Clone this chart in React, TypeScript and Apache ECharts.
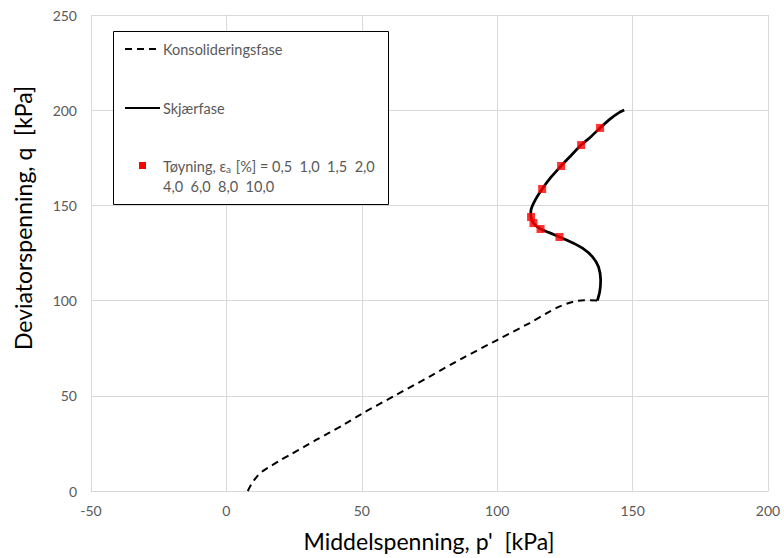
import React, { useEffect, useRef } from "react";
import * as echarts from "echarts";

// Consolidation phase (dashed)
const consP = [7.9, 9.0, 10.3, 11.9, 14.0, 16.6, 19.6, 23.9, 28.8, 33.1, 38.0, 43.5, 50.3, 62.6, 74.9, 87.1, 100, 111.8, 118.5, 122.9, 127.8, 132, 137];
const consQ = [0, 3.0, 5.8, 8.6, 11.0, 13.2, 15.9, 19.3, 23.3, 26.8, 30.6, 35.0, 40.8, 50.4, 60.0, 69.7, 79.3, 88.1, 93.5, 96.8, 99.3, 100.2, 100];

// Shear phase (solid)
const shearP = [137, 137.9, 138.2, 137.4, 135.2, 131.5, 127.8, 123, 119.2, 116, 113.4, 112.5, 112.4, 113.7, 116.6, 119.8, 123.6, 127.2, 131, 134.6, 138, 142, 145, 146.9];
const shearQ = [100, 105, 110.8, 117.8, 123, 127.5, 130.4, 133.4, 135.7, 137.6, 140.7, 143.9, 146.7, 151.9, 158.6, 164.7, 170.7, 176.1, 181.7, 186.1, 190.7, 195.7, 198.7, 200.1];

// Strain markers (0.5, 1.0, 1.5, 2.0, 4.0, 6.0, 8.0, 10.0 %)
const strainLabels = ["0,5", "1,0", "1,5", "2,0", "4,0", "6,0", "8,0", "10,0"];
const markP = [123, 116, 113.4, 112.5, 116.6, 123.6, 131, 138];
const markQ = [133.4, 137.6, 140.7, 143.9, 158.6, 170.7, 181.7, 190.7];

const xTicks = { min: -50, max: 200, interval: 50 };
const yTicks = { min: 0, max: 250, interval: 50 };

const FONT = "Lato, 'Noto Sans', sans-serif";

export default function App() {
  const ref = useRef<HTMLDivElement>(null);
  useEffect(() => {
    document.body.style.margin = "0";
    if (!ref.current) return;
    const chart = echarts.init(ref.current, undefined, { renderer: "svg" });
    const gridColor = "#d9d9d9";
    const labelColor = "#595959";
    const legendText = {
      verticalAlign: "middle",
      fontSize: 14.5,
      fontFamily: FONT,
      fill: labelColor,
    };
    chart.setOption({
      animation: false,
      backgroundColor: "#ffffff",
      textStyle: { fontFamily: FONT },
      grid: { left: 91, right: 16, top: 15, bottom: 67, containLabel: false },
      xAxis: {
        type: "value",
        min: xTicks.min,
        max: xTicks.max,
        interval: xTicks.interval,
        axisLine: { show: true, onZero: false, lineStyle: { color: gridColor } },
        axisTick: { show: false },
        splitLine: { show: true, lineStyle: { color: gridColor, width: 1 } },
        axisLabel: { color: labelColor, fontSize: 14, margin: 12, fontFamily: FONT },
      },
      yAxis: {
        type: "value",
        min: yTicks.min,
        max: yTicks.max,
        interval: yTicks.interval,
        axisLine: { show: true, lineStyle: { color: gridColor } },
        axisTick: { show: false },
        splitLine: { show: true, lineStyle: { color: gridColor, width: 1 } },
        axisLabel: { color: labelColor, fontSize: 14, margin: 14, fontFamily: FONT },
      },
      series: [
        {
          name: "Konsolideringsfase",
          type: "line",
          data: consP.map((p, i) => [p, consQ[i]]),
          showSymbol: false,
          smooth: 0.3,
          lineStyle: { color: "#000", width: 2, type: [7, 5] },
        },
        {
          name: "Skjærfase",
          type: "line",
          data: shearP.map((p, i) => [p, shearQ[i]]),
          showSymbol: false,
          smooth: 0.3,
          lineStyle: { color: "#000", width: 2.75 },
        },
        {
          name: "Tøyning",
          type: "scatter",
          data: markP.map((p, i) => ({ value: [p, markQ[i]], name: strainLabels[i] })),
          symbol: "rect",
          symbolSize: 8,
          itemStyle: { color: "#ff0000" },
          z: 5,
        },
      ],
      graphic: [
        {
          type: "text",
          x: 429,
          y: 541,
          style: {
            text: "Middelspenning, p'  [kPa]",
            align: "center",
            verticalAlign: "middle",
            fontSize: 23,
            fontFamily: FONT,
            fill: "#000",
          },
        },
        {
          type: "text",
          x: 23,
          y: 218,
          rotation: Math.PI / 2,
          style: {
            text: "Deviatorspenning, q  [kPa]",
            align: "center",
            verticalAlign: "middle",
            fontSize: 23,
            fontFamily: FONT,
            fill: "#000",
          },
        },
        {
          type: "group",
          children: [
            {
              type: "rect",
              shape: { x: 113.5, y: 31.5, width: 275, height: 173 },
              style: { fill: "#fff", stroke: "#000", lineWidth: 1 },
              z: 10,
            },
            {
              type: "line",
              shape: { x1: 125, y1: 49, x2: 160, y2: 49 },
              style: { stroke: "#000", lineWidth: 2, lineDash: [7, 5] },
              z: 11,
            },
            {
              type: "text",
              x: 163,
              y: 49,
              style: { ...legendText, text: "Konsolideringsfase" },
              z: 11,
            },
            {
              type: "line",
              shape: { x1: 125, y1: 108, x2: 160, y2: 108 },
              style: { stroke: "#000", lineWidth: 2 },
              z: 11,
            },
            {
              type: "text",
              x: 163,
              y: 108,
              style: { ...legendText, text: "Skjærfase" },
              z: 11,
            },
            {
              type: "rect",
              shape: { x: 139, y: 162, width: 7, height: 7 },
              style: { fill: "#ff0000" },
              z: 11,
            },
            {
              type: "text",
              x: 163,
              y: 166,
              style: {
                ...legendText,
                text: "Tøyning, ε{s|a} [%] = " + strainLabels.slice(0, 4).join("  "),
                rich: {
                  s: {
                    fontSize: 10,
                    fontFamily: FONT,
                    fill: labelColor,
                    verticalAlign: "bottom",
                    lineHeight: 14,
                    padding: [0, 1, 0, 0],
                  },
                },
              },
              z: 11,
            },
            {
              type: "text",
              x: 163,
              y: 186,
              style: { ...legendText, text: strainLabels.slice(4).join("  ") },
              z: 11,
            },
          ],
        },
      ],
    });
    return () => chart.dispose();
  }, []);
  return <div ref={ref} style={{ width: 784, height: 558 }} />;
}
